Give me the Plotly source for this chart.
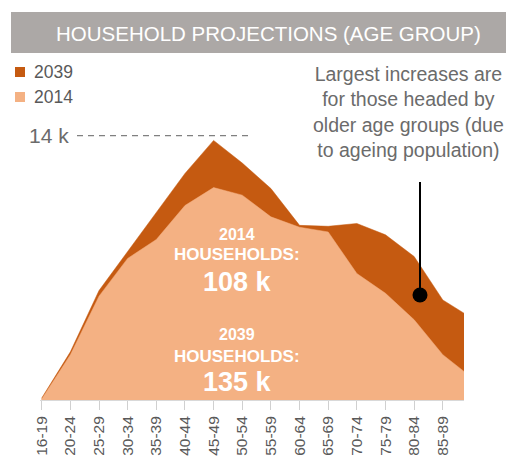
import plotly.graph_objects as go

# Household projections by age group (thousands of households)
age_groups = ['16-19', '20-24', '25-29', '30-34', '35-39', '40-44', '45-49', '50-54',
              '55-59', '60-64', '65-69', '70-74', '75-79', '80-84', '85-89', '90+']
households_2039 = [0.1, 2.55, 5.8, 7.85, 9.9, 12.0, 13.75, 12.55,
                   11.2, 9.25, 9.2, 9.35, 8.75, 7.6, 5.3, 4.35]
households_2014 = [0.05, 2.4, 5.5, 7.5, 8.5, 10.3, 11.25, 10.85,
                   9.7, 9.15, 8.9, 6.7, 5.65, 4.25, 2.4, 1.2]
tick_labels = age_groups[:-1]  # 90+ is cut by the plot edge, no label shown
legend_names = ['2039', '2014']

ref_value = 14
ref_label = '14 k'
total_2014 = '108 k'
total_2039 = '135 k'

DARK = '#c55a11'
LIGHT = '#f4b183'
GREY_TEXT = '#6b6b6b'
FONT = 'Liberation Sans, Arial, sans-serif'

# Page body has an 8px margin, so the figure is drawn 8px in from the corner
OFF = 8
W, H = 506, 453
ML, MR, MT, MB = 32, 50, 122, 61
PW, PH = W - ML - MR, H - MT - MB


# screen pixel -> paper coordinate
def px_x(p):
    return (p - OFF - ML) / PW


def px_y(p):
    return (H - MB - (p - OFF)) / PH


fig = go.Figure()

# Areas: 2039 behind, 2014 in front
fig.add_trace(go.Scatter(
    x=list(range(len(age_groups))), y=households_2039, name='2039',
    mode='lines', fill='tozeroy', line=dict(color=DARK, width=0.5),
    fillcolor=DARK, showlegend=False,
))
fig.add_trace(go.Scatter(
    x=list(range(len(age_groups))), y=households_2014, name='2014',
    mode='lines', fill='tozeroy', line=dict(color=LIGHT, width=0.5),
    fillcolor=LIGHT, showlegend=False,
))

# Legend: squares + labels
for i, (name, col) in enumerate(zip(legend_names, [DARK, LIGHT])):
    yc = 72 + i * 25
    fig.add_shape(type='rect', xref='paper', yref='paper',
                  x0=px_x(15), x1=px_x(25), y0=px_y(yc + 5), y1=px_y(yc - 5),
                  fillcolor=col, line_width=0)
    fig.add_annotation(text=name, xref='paper', yref='paper', x=px_x(32), y=px_y(yc),
                       xanchor='left', yanchor='middle', showarrow=False,
                       font=dict(size=17.5, color='#595959', family=FONT))

# Title bar
fig.add_shape(type='rect', xref='paper', yref='paper',
              x0=px_x(11), x1=px_x(520), y0=px_y(53), y1=px_y(12),
              fillcolor='#aca8a6', line_width=0, layer='below')
fig.add_annotation(text='HOUSEHOLD PROJECTIONS (AGE GROUP)', xref='paper', yref='paper',
                   x=px_x(268), y=px_y(34), xanchor='center', yanchor='middle',
                   showarrow=False, font=dict(size=20.5, color='white', family=FONT))

# 14 k reference line
fig.add_shape(type='line', xref='paper', yref='y',
              x0=px_x(77), x1=px_x(248), y0=ref_value, y1=ref_value,
              line=dict(color='#808080', width=1.3, dash='6px,5px'))
fig.add_annotation(text=ref_label, xref='paper', yref='y', x=px_x(71), y=ref_value,
                   xanchor='right', yanchor='middle', showarrow=False,
                   font=dict(size=21, color=GREY_TEXT, family=FONT))

# Callout text and pointer
fig.add_annotation(
    text='Largest increases are<br>for those headed by<br>older age groups (due<br>to ageing population)',
    xref='paper', yref='paper', x=px_x(408), y=px_y(112), xanchor='center', yanchor='middle',
    showarrow=False, align='center',
    font=dict(size=19.5, color=GREY_TEXT, family=FONT),
)
fig.add_shape(type='line', xref='paper', yref='paper',
              x0=px_x(420), x1=px_x(420), y0=px_y(182), y1=px_y(295),
              line=dict(color='black', width=2))
fig.add_shape(type='circle', xref='paper', yref='paper',
              xsizemode='pixel', ysizemode='pixel',
              xanchor=px_x(420), yanchor=px_y(295),
              x0=-7.5, x1=7.5, y0=-7.5, y1=7.5,
              fillcolor='black', line_width=0)

# Totals inside the areas
labels = [
    ('2014', 234, 16), ('HOUSEHOLDS:', 254, 17), (total_2014, 282, 27),
    ('2039', 334, 16), ('HOUSEHOLDS:', 356, 17), (total_2039, 382, 27),
]
for txt, ypix, size in labels:
    fig.add_annotation(text='<b>' + txt + '</b>', xref='paper', yref='paper',
                       x=px_x(237), y=px_y(ypix), xanchor='center', yanchor='middle',
                       showarrow=False, font=dict(size=size, color='white', family=FONT))

fig.update_xaxes(
    range=[-0.06, 14.74],
    tickmode='array', tickvals=list(range(len(tick_labels))), ticktext=tick_labels,
    tickangle=-90, ticks='outside', ticklen=9, tickcolor='#d0d0d0',
    showline=True, linecolor='#d9d9d9', showgrid=False, zeroline=False,
    tickfont=dict(size=15.5, color='#595959', family=FONT), automargin=False,
)
fig.update_yaxes(visible=False, range=[0, PH / 18.88])

fig.update_layout(
    width=W, height=H,
    margin=dict(l=ML, r=MR, t=MT, b=MB, autoexpand=False),
    paper_bgcolor='white', plot_bgcolor='white',
    font=dict(family=FONT),
    showlegend=False,
    hovermode=False,
)

fig.write_html('out.html')
